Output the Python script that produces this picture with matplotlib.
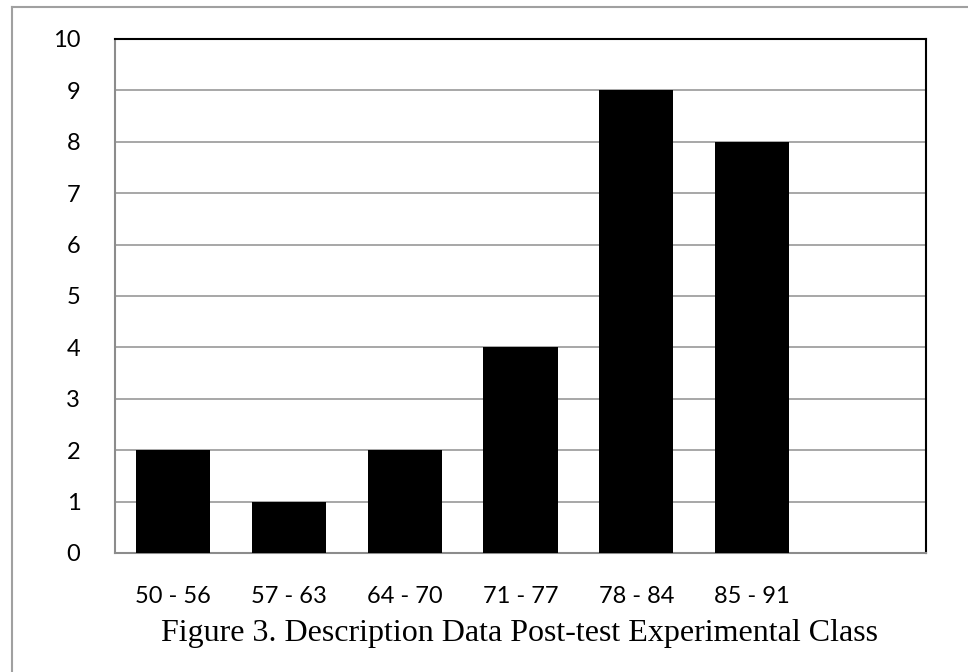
import numpy as np
import matplotlib.pyplot as plt
from matplotlib.lines import Line2D

# score classes and number of students in each
classes = ["50 - 56", "57 - 63", "64 - 70", "71 - 77", "78 - 84", "85 - 91"]
counts = [2, 1, 2, 4, 9, 8]
yticks = list(range(0, 11))

fig = plt.figure(figsize=(9.68, 6.72), dpi=100)
ax = fig.add_axes([0.1188, 0.1771, 0.8378, 0.7649])

x = np.arange(len(classes))
ax.bar(x, counts, width=0.64, color="black", zorder=3)

# one empty slot is left on the right
ax.set_xlim(-0.5, len(classes) + 0.5)
ax.set_ylim(0, 10)
ax.set_yticks(yticks)
ax.set_xticks(x)
ax.set_xticklabels(classes)

for lbl in ax.get_xticklabels() + ax.get_yticklabels():
    lbl.set_fontfamily("Lato")
    lbl.set_fontsize(17)

ax.tick_params(axis="both", length=0)
ax.tick_params(axis="y", pad=25)
ax.tick_params(axis="x", pad=24)

ax.yaxis.grid(True, color="#a0a0a0", linewidth=1.3, zorder=0)
ax.set_axisbelow(True)
for side in ["left", "bottom"]:
    ax.spines[side].set_color("#8c8c8c")
    ax.spines[side].set_linewidth(1.5)
for side in ["top", "right"]:
    ax.spines[side].set_color("black")
    ax.spines[side].set_linewidth(1.5)

fig.text(0.537, 0.046, "Figure 3. Description Data Post-test Experimental Class",
         ha="center", va="baseline", fontsize=23, family="Liberation Serif")

# frame around the figure
fig.add_artist(Line2D([12 / 968, 12 / 968], [0, 1 - 7 / 672],
                      transform=fig.transFigure, color="#a0a0a0", linewidth=1.5))
fig.add_artist(Line2D([12 / 968, 1], [1 - 7 / 672, 1 - 7 / 672],
                      transform=fig.transFigure, color="#a0a0a0", linewidth=1.5))

fig.savefig("out.png", dpi=100)
